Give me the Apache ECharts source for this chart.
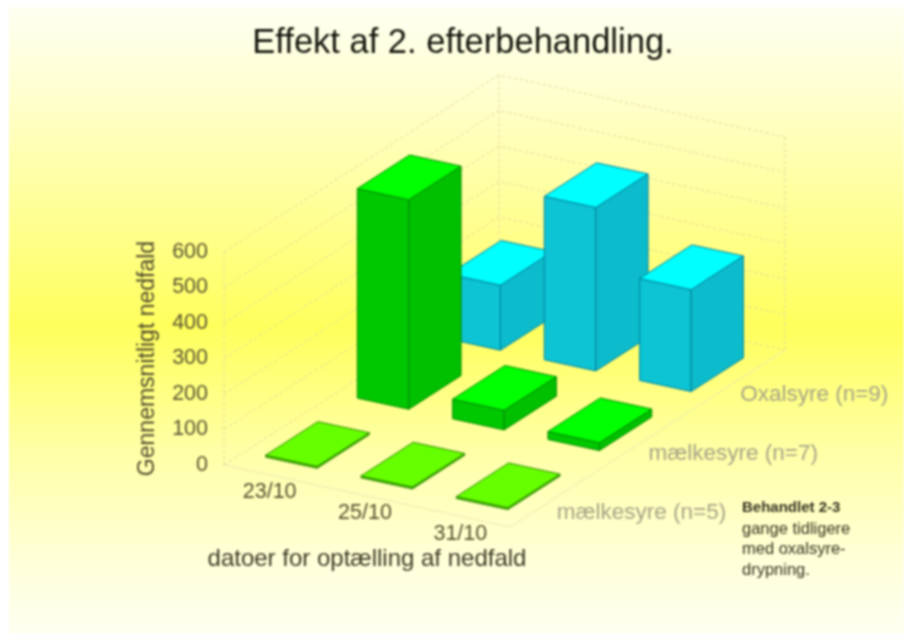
<!DOCTYPE html>
<html>
<head>
<meta charset="utf-8">
<style>
html,body{margin:0;padding:0;background:#fff}
#c{width:904px;height:634px;filter:blur(1px)}
</style>
<script src="https://cdn.jsdelivr.net/npm/echarts@6/dist/echarts.min.js"></script>
</head>
<body>
<div id="c"></div>
<script>
var categories = ['23/10', '25/10', '31/10'];
var rowNames = ['mælkesyre (n=5)', 'mælkesyre (n=7)', 'Oxalsyre (n=9)'];
var valuesN5 = [5, 5, 5];
var valuesN7 = [590, 55, 22];
var valuesOx = [183, 460, 287];
var yTicks = [0, 100, 200, 300, 400, 500, 600];
var noteLines = ['Behandlet 2-3', 'gange tidligere', 'med oxalsyre-', 'drypning.'];

var FONT = '"Liberation Sans", Arial, sans-serif';
var SKEW_PER_CAT = 62 / 3;          // screen drop per category along the floor
var DEPTH = [275 / 3, -177 / 3];    // screen shift per row going back
var BAR_U = 0.27, BAR_V = 0.285;    // half footprint of a bar

function project(api, cat, row, val) {
  var p = api.coord([cat, val]);
  return [p[0] + row * DEPTH[0], p[1] + cat * SKEW_PER_CAT + row * DEPTH[1]];
}

var palettes = [
  {top: '#66ff00', front: '#44cc00', side: '#44bb00', edge: '#2c8a00'},
  {top: '#00ff00', front: '#00c800', side: '#00c000', edge: '#008a00'},
  {top: '#00ffff', front: '#0cc4d4', side: '#0cbccc', edge: '#00809a'}
];

function barSeries(rowIndex, values) {
  var pal = palettes[rowIndex];
  return {
    type: 'custom', name: rowNames[rowIndex], coordinateSystem: 'cartesian2d',
    clip: false, silent: true, z: 5 + (2 - rowIndex),
    data: values.map(function (v, i) { return [i, v]; }),
    encode: {x: 0, y: 1},
    renderItem: function (params, api) {
      var i = api.value(0), v = api.value(1);
      var cu = i + 0.5, cv = rowIndex + 0.5;
      var u0 = cu - BAR_U, u1 = cu + BAR_U, v0 = cv - BAR_V, v1 = cv + BAR_V;
      var fb0 = project(api, u0, v0, 0), fb1 = project(api, u1, v0, 0), rb = project(api, u1, v1, 0);
      var ft0 = project(api, u0, v0, v), ft1 = project(api, u1, v0, v), rt = project(api, u1, v1, v), bt = project(api, u0, v1, v);
      function face(points, fill) {
        return {type: 'polygon', shape: {points: points},
          style: {fill: fill, stroke: pal.edge, lineWidth: 1, lineJoin: 'round'}};
      }
      return {type: 'group', children: [
        face([fb0, fb1, ft1, ft0], pal.front),
        face([fb1, rb, rt, ft1], pal.side),
        face([ft0, ft1, rt, bt], pal.top)
      ]};
    }
  };
}

var wallStyle = {stroke: '#dfd69a', lineWidth: 1, lineDash: [3, 3], fill: null};
var frameStyle = {stroke: '#ece8b0', lineWidth: 1, fill: null};
function frameSeries() {
  return {
    type: 'custom', coordinateSystem: 'cartesian2d', clip: false, silent: true, z: 1,
    data: yTicks.map(function (t) { return [0, t]; }),
    encode: {x: 0, y: 1},
    renderItem: function (params, api) {
      var t = api.value(1);
      var nc = categories.length, nr = rowNames.length;
      var a = project(api, 0, 0, t), d = project(api, 0, nr, t), c = project(api, nc, nr, t);
      var kids = [{type: 'polyline', shape: {points: [a, d, c]}, style: wallStyle}];
      if (t === yTicks[0]) {
        var b = project(api, nc, 0, 0);
        kids.push({type: 'polyline', shape: {points: [a, b, c]}, style: frameStyle});
        var top = yTicks[yTicks.length - 1];
        [[0, 0], [0, nr], [nc, nr]].forEach(function (q) {
          kids.push({type: 'line', shape: {
            x1: project(api, q[0], q[1], 0)[0], y1: project(api, q[0], q[1], 0)[1],
            x2: project(api, q[0], q[1], top)[0], y2: project(api, q[0], q[1], top)[1]
          }, style: wallStyle});
        });
      }
      return {type: 'group', children: kids};
    }
  };
}

function labelSeries() {
  return {
    type: 'custom', coordinateSystem: 'cartesian2d', clip: false, silent: true, z: 20,
    data: [[0, 0]], encode: {x: 0, y: 1},
    renderItem: function (params, api) {
      var kids = [];
      categories.forEach(function (name, i) {
        var p = project(api, i + 0.5, 0, 0);
        kids.push({type: 'text', x: p[0] - 2, y: p[1] + 17, style: {
          text: name, font: '21.5px ' + FONT, fill: '#55502f', align: 'center', verticalAlign: 'middle'}});
      });
      rowNames.forEach(function (name, r) {
        var p = project(api, categories.length, r + 0.5, 0);
        kids.push({type: 'text', x: p[0] + 1, y: p[1] + 15, style: {
          text: name, font: '22.5px ' + FONT, fill: '#a6a386', align: 'left', verticalAlign: 'middle'}});
      });
      return {type: 'group', children: kids};
    }
  };
}

var chart = echarts.init(document.getElementById('c'), null, {renderer: 'canvas'});
chart.setOption({
  animation: false,
  backgroundColor: '#ffffff',
  title: {
    text: 'Effekt af 2. efterbehandling.', left: 458, top: 21, textAlign: 'center',
    textStyle: {fontFamily: FONT, fontSize: 34.5, fontWeight: 'normal', color: '#14140c'}
  },
  grid: {left: 224, top: 252, width: 286, height: 213},
  xAxis: {
    type: 'value', min: 0, max: 3, interval: 1,
    name: 'datoer for optælling af nedfald', nameLocation: 'middle', nameGap: 94,
    nameTextStyle: {fontFamily: FONT, fontSize: 24, color: '#3e3a26', verticalAlign: 'middle'},
    axisLine: {show: false}, axisTick: {show: false}, axisLabel: {show: false}, splitLine: {show: false}
  },
  yAxis: {
    type: 'value', min: 0, max: 600, interval: 100,
    name: 'Gennemsnitligt nedfald', nameLocation: 'middle', nameRotate: 90, nameGap: 76,
    nameTextStyle: {fontFamily: FONT, fontSize: 23, color: '#504b2c', verticalAlign: 'middle'},
    axisLine: {show: false}, axisTick: {show: false}, splitLine: {show: false},
    axisLabel: {margin: 16, fontFamily: FONT, fontSize: 21.5, color: '#5a5530'}
  },
  graphic: [
    {type: 'rect', z: -10, silent: true, shape: {x: 9, y: 7, width: 895, height: 627},
      style: {fill: new echarts.graphic.LinearGradient(0, 0, 0, 1, [
        {offset: 0, color: '#fffff2'},
        {offset: 0.12, color: '#ffffd4'},
        {offset: 0.3, color: '#ffff9e'},
        {offset: 0.51, color: '#ffff5c'},
        {offset: 0.7, color: '#ffffa4'},
        {offset: 0.88, color: '#ffffd8'},
        {offset: 1, color: '#fffff2'}
      ])}},
    {type: 'group', children: noteLines.map(function (s, i) {
      return {type: 'text', left: 742, top: 500 + i * 20.5, z: 30, style: {
        text: s, font: (i === 0 ? 'bold ' : '') + (i === 0 ? '15px ' : '16.5px ') + FONT, fill: '#34321f'}};
    })}
  ],
  series: [
    frameSeries(),
    barSeries(2, valuesOx),
    barSeries(1, valuesN7),
    barSeries(0, valuesN5),
    labelSeries()
  ]
});
</script>
</body>
</html>
